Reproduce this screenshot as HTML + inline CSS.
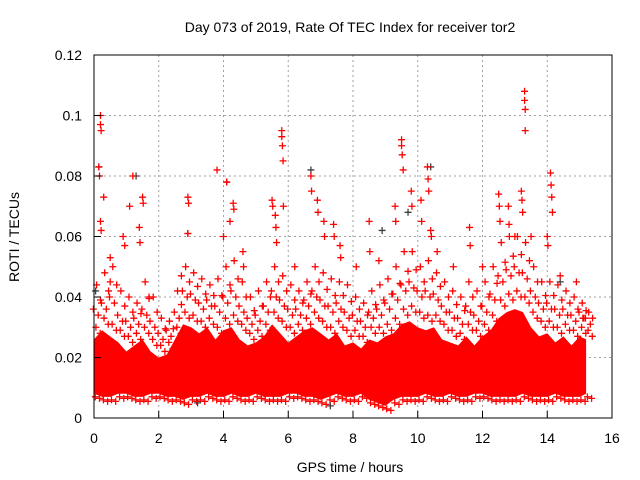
<!DOCTYPE html>
<html><head><meta charset="utf-8"><style>
body{margin:0;background:#fff}
svg{display:block;font-family:"Liberation Sans",sans-serif}
</style></head><body>
<svg id="chart" width="640" height="480">
<text x="350" y="32" font-size="14" text-anchor="middle">Day 073 of 2019, Rate Of TEC Index for receiver tor2</text>
<g id="grid"></g>
<g id="core"></g>
<g id="pts"></g>
<rect x="94" y="55" width="518" height="363" fill="none" stroke="#000" stroke-width="1"/>
<g id="axes"></g>
<text x="350" y="472" font-size="14" text-anchor="middle">GPS time / hours</text>
<text x="19" y="237" font-size="14" text-anchor="middle" transform="rotate(-90 19 237)">ROTI / TECUs</text>
</svg>
<script>
const xTicks=[0,2,4,6,8,10,12,14,16];
const yTicks=[0,0.02,0.04,0.06,0.08,0.1,0.12];
const yTickLabels=["0","0.02","0.04","0.06","0.08","0.1","0.12"];
const binTimes=[0,0.25,0.5,0.75,1,1.25,1.5,1.75,2,2.25,2.5,2.75,3,3.25,3.5,3.75,4,4.25,4.5,4.75,5,5.25,5.5,5.75,6,6.25,6.5,6.75,7,7.25,7.5,7.75,8,8.25,8.5,8.75,9,9.25,9.5,9.75,10,10.25,10.5,10.75,11,11.25,11.5,11.75,12,12.25,12.5,12.75,13,13.25,13.5,13.75,14,14.25,14.5,14.75,15,15.2];
const coreUpper=[0.026,0.029,0.027,0.025,0.022,0.024,0.026,0.022,0.02,0.021,0.026,0.031,0.03,0.028,0.03,0.026,0.029,0.03,0.026,0.024,0.025,0.027,0.031,0.028,0.025,0.027,0.029,0.03,0.028,0.026,0.028,0.024,0.025,0.023,0.026,0.025,0.027,0.028,0.031,0.032,0.03,0.029,0.03,0.026,0.025,0.024,0.027,0.024,0.027,0.029,0.033,0.035,0.036,0.035,0.03,0.027,0.028,0.025,0.027,0.024,0.027,0.026];
const coreLower=[0.008,0.007,0.007,0.008,0.008,0.007,0.007,0.008,0.008,0.007,0.007,0.006,0.007,0.007,0.008,0.007,0.007,0.008,0.007,0.007,0.008,0.007,0.007,0.007,0.008,0.008,0.007,0.007,0.006,0.007,0.008,0.007,0.007,0.008,0.006,0.005,0.004,0.006,0.007,0.007,0.007,0.008,0.007,0.007,0.008,0.007,0.007,0.008,0.008,0.007,0.007,0.007,0.007,0.008,0.007,0.007,0.007,0.008,0.007,0.007,0.007,0.008];
const upperA=[0.034,0.036,0.038,0.032,0.03,0.031,0.034,0.03,0.026,0.027,0.033,0.04,0.039,0.036,0.037,0.035,0.038,0.04,0.035,0.031,0.032,0.035,0.04,0.037,0.034,0.034,0.037,0.04,0.037,0.035,0.036,0.033,0.032,0.03,0.033,0.034,0.036,0.039,0.042,0.043,0.04,0.04,0.039,0.035,0.033,0.031,0.035,0.032,0.035,0.039,0.045,0.047,0.048,0.046,0.04,0.036,0.036,0.034,0.034,0.032,0.033,0.031];
const upperB=[0.03,0.033,0.031,0.029,0.027,0.028,0.03,0.026,0.024,0.025,0.03,0.035,0.034,0.032,0.033,0.03,0.033,0.034,0.031,0.028,0.029,0.031,0.035,0.032,0.03,0.031,0.033,0.035,0.032,0.03,0.032,0.029,0.029,0.027,0.03,0.03,0.031,0.033,0.036,0.037,0.035,0.034,0.034,0.031,0.029,0.028,0.031,0.029,0.031,0.034,0.039,0.041,0.042,0.04,0.035,0.032,0.032,0.03,0.031,0.029,0.03,0.029];
const midValues=[0.044,0.048,0.05,0.042,0.04,0.038,0.045,0.04,0.033,0.032,0.042,0.05,0.048,0.046,0.044,0.046,0.05,0.052,0.045,0.04,0.042,0.045,0.05,0.047,0.044,0.042,0.045,0.05,0.048,0.046,0.045,0.044,0.04,0.038,0.042,0.044,0.046,0.05,0.055,0.055,0.05,0.052,0.048,0.045,0.042,0.04,0.045,0.042,0.045,0.05,0.058,0.06,0.06,0.058,0.05,0.045,0.045,0.044,0.042,0.04,0.038,0.035];
const spikeTimes=[0.2,0.2,0.22,0.15,0.17,0.3,0.2,0.22,0.5,0.5,0.9,0.95,1.2,1.1,1.5,1.52,1.4,1.42,1.7,2.9,2.92,2.9,2.7,3.8,4.1,4.3,4.32,4.2,4.0,4.6,4.62,5.5,5.52,5.6,5.62,5.64,5.8,5.8,5.82,5.84,5.85,6.2,6.7,6.72,6.9,6.92,7.1,7.12,7.4,7.42,7.6,7.62,8.1,8.5,8.52,8.8,9.5,9.5,9.52,9.55,9.3,9.32,9.8,9.82,10.1,10.12,10.3,10.32,10.34,10.4,10.42,10.6,11.1,11.6,11.62,12.0,12.5,12.52,12.54,12.8,12.82,13.0,13.3,13.3,13.32,13.32,13.2,13.22,13.24,13.5,14.1,14.12,14.14,14.16,14.0,14.02,14.4,14.9,15.1];
const spikeValues=[0.1,0.097,0.095,0.083,0.08,0.073,0.065,0.062,0.053,0.045,0.06,0.057,0.08,0.07,0.073,0.071,0.063,0.058,0.04,0.073,0.071,0.061,0.047,0.082,0.078,0.071,0.069,0.065,0.06,0.055,0.05,0.072,0.07,0.067,0.063,0.058,0.095,0.093,0.09,0.085,0.07,0.05,0.08,0.075,0.072,0.068,0.065,0.06,0.064,0.06,0.057,0.053,0.05,0.065,0.055,0.052,0.092,0.09,0.087,0.082,0.07,0.065,0.075,0.07,0.072,0.065,0.083,0.079,0.075,0.062,0.06,0.055,0.05,0.063,0.057,0.05,0.074,0.07,0.065,0.07,0.064,0.06,0.108,0.105,0.102,0.095,0.075,0.072,0.068,0.06,0.081,0.077,0.073,0.068,0.06,0.057,0.047,0.045,0.033];
const blackTimes=[0.15,0.05,1.3,2.9,4.1,6.7,8.9,9.7,10.4,14.4,3.2,7.3];
const blackValues=[0.083,0.042,0.08,0.061,0.078,0.082,0.062,0.068,0.083,0.045,0.005,0.004];

const X=t=>94+t*(518/16), Y=v=>418-v*(363/0.12);
const NS="http://www.w3.org/2000/svg";
function mk(tag,attrs,parent){const e=document.createElementNS(NS,tag);for(const k in attrs)e.setAttribute(k,attrs[k]);parent.appendChild(e);return e;}
const grid=document.getElementById('grid'),axes=document.getElementById('axes'),core=document.getElementById('core'),pts=document.getElementById('pts');
xTicks.forEach(t=>{
  if(t>0&&t<16){const l=mk('line',{x1:X(t),x2:X(t),y1:55,y2:418,stroke:'#a0a0a0','stroke-dasharray':'2,3'},grid);
  
  }
  const tk=mk('line',{x1:X(t),x2:X(t),y1:418,y2:411,stroke:'#000'},axes);
  
  
  const tx=mk('text',{x:X(t),y:443,'font-size':14,'text-anchor':'middle'},axes);tx.textContent=t;
  
  
});
yTicks.forEach((v,i)=>{
  if(i>0&&i<yTicks.length-1){const l=mk('line',{x1:94,x2:612,y1:Y(v),y2:Y(v),stroke:'#a0a0a0','stroke-dasharray':'2,3'},grid);
  
  }
  const tk=mk('line',{x1:94,x2:101,y1:Y(v),y2:Y(v),stroke:'#000'},axes);
  
  
  const tx=mk('text',{x:82,y:Y(v)+5,'font-size':14,'text-anchor':'end'},axes);tx.textContent=yTickLabels[i];
  
  
});
let p='';binTimes.forEach((t,i)=>{p+=(i?'L':'M')+X(t)+','+Y(coreUpper[i]);});
for(let i=binTimes.length-1;i>=0;i--)p+='L'+X(binTimes[i])+','+Y(coreLower[i]);
const poly=mk('path',{d:p+'Z',fill:'#ff0000'},core);


function plus(t,v,c,name){const x=X(t),y=Y(v);
  const e=mk('path',{d:`M${x-3.5},${y}h7M${x},${y-3.5}v7`,stroke:c,'stroke-width':1.3},pts);
  
  }
binTimes.forEach((t,i)=>{
  plus(t+0.06,upperB[i],'#ff0000','core-edge-point');
  plus(t+0.19,upperB[i]-0.002,'#ff0000','core-edge-point');
  plus(t+0.13,upperA[i],'#ff0000','upper-point');
  plus(t-0.02,upperA[i]+0.002,'#ff0000','upper-point');
  plus(t+0.2,(upperA[i]+midValues[i])/2,'#ff0000','mid-point');
  plus(t+0.08,midValues[i],'#ff0000','mid-point');
  plus(t+0.04,coreLower[i]-0.001,'#ff0000','core-low-point');
  plus(t+0.17,coreLower[i]-0.0015,'#ff0000','core-low-point');
});
blackTimes.forEach((t,i)=>plus(t,blackValues[i],'#404040','black-point'));
spikeTimes.forEach((t,i)=>plus(t,spikeValues[i],'#ff0000','spike-point'));
</script>
</body></html>
